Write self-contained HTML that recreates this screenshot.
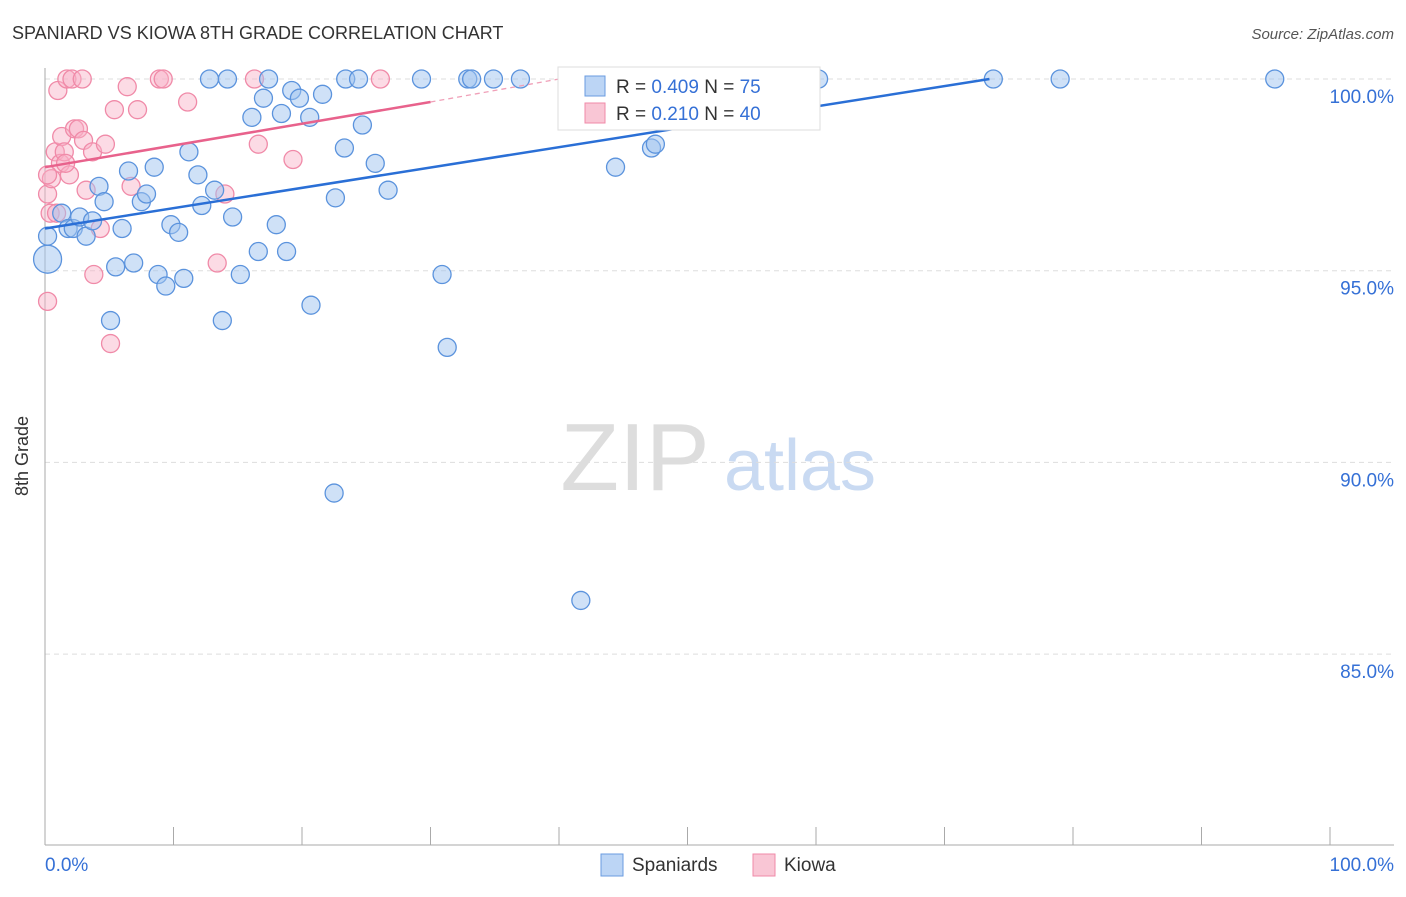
<!DOCTYPE html>
<html><head><meta charset="utf-8"><style>
body{margin:0;background:#fff;font-family:"Liberation Sans",sans-serif;}
svg text{font-family:"Liberation Sans",sans-serif;}
</style></head><body>
<svg width="1406" height="892" xmlns="http://www.w3.org/2000/svg">
<text x="12" y="39" font-size="18" fill="#333">SPANIARD VS KIOWA 8TH GRADE CORRELATION CHART</text>
<text x="1394" y="39" font-size="15" fill="#555" font-style="italic" text-anchor="end">Source: ZipAtlas.com</text>
<text x="28" y="456" font-size="18" fill="#333" text-anchor="middle" transform="rotate(-90 28 456)">8th Grade</text>
<g><text x="635" y="490" font-size="96" fill="#ddd" font-family="Liberation Serif" text-anchor="middle">ZIP</text><text x="800" y="490" font-size="72" fill="#c9daf2" text-anchor="middle">atlas</text></g>
<g id="grid"></g><g id="axes"></g><g id="trend"></g><g id="pts"></g>
<g>
<rect x="558" y="67" width="262" height="63" fill="#fff" stroke="#ddd"/>
<rect x="585" y="76" width="20" height="20" fill="#bcd5f5" stroke="#6a9be0"/>
<rect x="585" y="103" width="20" height="20" fill="#f9c6d5" stroke="#f08aa8"/>
<text x="616" y="93" font-size="19" fill="#333">R = <tspan fill="#3570d6">0.409</tspan>   N =  <tspan fill="#3570d6">75</tspan></text>
<text x="616" y="120" font-size="19" fill="#333">R =  <tspan fill="#3570d6">0.210</tspan>   N = <tspan fill="#3570d6">40</tspan></text>
</g>
<g>
<rect x="601" y="854" width="22" height="22" fill="#bcd5f5" stroke="#6a9be0"/>
<text x="632" y="871" font-size="19" fill="#333">Spaniards</text>
<rect x="753" y="854" width="22" height="22" fill="#f9c6d5" stroke="#f08aa8"/>
<text x="784" y="871" font-size="19" fill="#333">Kiowa</text>
</g>
<text x="45" y="871" font-size="19" fill="#3570d6">0.0%</text>
<text x="1394" y="871" font-size="19" fill="#3570d6" text-anchor="end">100.0%</text>
</svg>
<script>
const yTicks=[100,95,90,85];
const yTickLabels=["100.0%","95.0%","90.0%","85.0%"];
const xTicks=[0,10,20,30,40,50,60,70,80,90,100];
const blueX=[0.2,0.2,1.3,1.8,2.2,2.7,3.2,3.7,4.2,4.6,5.1,5.5,6.0,6.5,6.9,7.5,7.9,8.5,8.8,9.4,9.8,10.4,10.8,11.2,11.9,12.2,12.8,13.2,13.8,14.2,14.6,15.2,16.1,16.6,17.0,17.4,18.0,18.4,18.8,19.2,19.8,20.6,20.7,21.6,22.5,22.6,23.3,23.4,24.4,24.7,25.7,26.7,29.3,30.9,31.3,32.9,33.2,34.9,37.0,40.7,41.7,44.4,45.4,47.2,47.5,49.1,51.9,56.7,60.2,73.8,79.0,95.7];
const blueY=[95.3,95.9,96.5,96.1,96.1,96.4,95.9,96.3,97.2,96.8,93.7,95.1,96.1,97.6,95.2,96.8,97.0,97.7,94.9,94.6,96.2,96.0,94.8,98.1,97.5,96.7,100,97.1,93.7,100,96.4,94.9,99.0,95.5,99.5,100,96.2,99.1,95.5,99.7,99.5,99.0,94.1,99.6,89.2,96.9,98.2,100,100,98.8,97.8,97.1,100,94.9,93.0,100,100,100,100,100,86.4,97.7,100,98.2,98.3,100,100,99.3,100,100,100,100];
const blueR=[14,11];
const pinkX=[0.2,0.2,0.4,0.5,0.8,1.0,1.2,1.3,1.5,1.7,1.9,2.1,2.3,2.6,2.9,3.0,3.2,3.7,3.8,4.3,4.7,5.1,5.4,6.4,6.7,7.2,8.9,9.2,11.1,13.4,14.0,16.3,16.6,19.3,26.1,0.2,1.6,0.9];
const pinkY=[94.2,97.0,96.5,97.4,98.1,99.7,97.8,98.5,98.1,100,97.5,100,98.7,98.7,100,98.4,97.1,98.1,94.9,96.1,98.3,93.1,99.2,99.8,97.2,99.2,100,100,99.4,95.2,97.0,100,98.3,97.9,100,97.5,97.8,96.5];
const blueTrend=[[0,96.1],[73.5,100]];
const pinkTrend=[[0,97.7],[30,99.4]];
const pinkTrendExt=[[30,99.4],[40,100]];
const NS="http://www.w3.org/2000/svg";
const X=v=>45+v*12.85, Y=v=>79+(100-v)*38.34;
function mk(tag,at,parent){const e=document.createElementNS(NS,tag);for(const k in at)e.setAttribute(k,at[k]);document.getElementById(parent).appendChild(e);return e;}
yTicks.forEach((t,i)=>{
 const l=mk('line',{x1:45,x2:1394,y1:Y(t),y2:Y(t),stroke:'#ddd','stroke-dasharray':'5,4'},'grid');
 
 
 const tx=mk('text',{x:1394,y:Y(t)+24,'font-size':19,fill:'#3570d6','text-anchor':'end'},'grid');
 tx.textContent=yTickLabels[i];
 
 
});
const ax=mk('line',{x1:45,x2:45,y1:68,y2:845,stroke:'#aaa'},'axes');


const bx=mk('line',{x1:45,x2:1394,y1:845,y2:845,stroke:'#aaa'},'axes');


xTicks.forEach(t=>{
 const l=mk('line',{x1:X(t),x2:X(t),y1:827,y2:845,stroke:'#aaa'},'axes');
 
 
});
function dots(xs,ys,fill,stroke,name){
 xs.forEach((x,i)=>{
  const r=(name==='spaniard-point'&&i===0)?14:9;
  const c=mk('circle',{cx:X(x),cy:Y(ys[i]),r:r,fill:fill,stroke:stroke,'stroke-width':1.3},'pts');
  
  
 });
}
dots(pinkX,pinkY,'rgba(248,175,198,0.45)','#f08aa8','kiowa-point');
dots(blueX,blueY,'rgba(160,196,240,0.5)','#5b93dd','spaniard-point');
const bt=mk('line',{x1:X(blueTrend[0][0]),y1:Y(blueTrend[0][1]),x2:X(blueTrend[1][0]),y2:Y(blueTrend[1][1]),stroke:'#2a6fd6','stroke-width':2.5},'pts');


const pt=mk('line',{x1:X(pinkTrend[0][0]),y1:Y(pinkTrend[0][1]),x2:X(pinkTrend[1][0]),y2:Y(pinkTrend[1][1]),stroke:'#e8628c','stroke-width':2.5},'pts');


const pe=mk('line',{x1:X(pinkTrendExt[0][0]),y1:Y(pinkTrendExt[0][1]),x2:X(pinkTrendExt[1][0]),y2:Y(pinkTrendExt[1][1]),stroke:'#f0a0b8','stroke-width':1.3,'stroke-dasharray':'5,4'},'pts');


</script>
</body></html>
